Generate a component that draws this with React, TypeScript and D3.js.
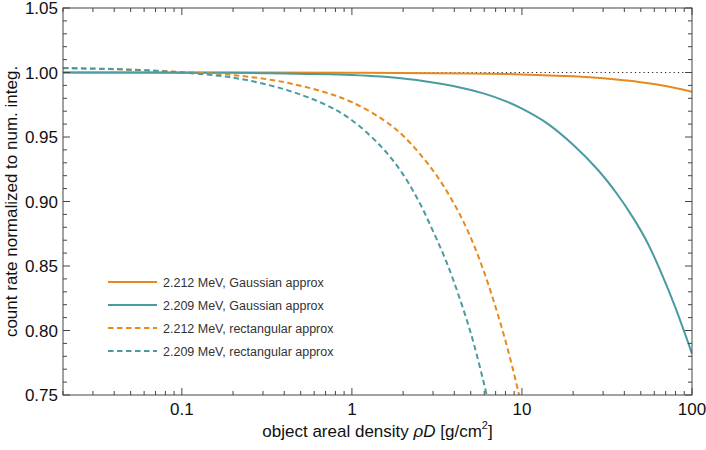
import React, { useEffect, useRef } from 'react';
import * as d3 from 'd3';

// values
const orangeGaussRho = [0.02, 0.1, 1, 5, 10, 20, 30, 50, 70, 100];
const orangeGaussVal = [1.0, 1.0, 0.9999, 0.9993, 0.9985, 0.997, 0.9955, 0.9925, 0.9895, 0.985];

const tealGaussRho = [0.02, 0.1, 0.3, 1, 2, 4, 6, 8, 10, 14, 20, 28, 36, 45, 55, 65, 80, 100];
const tealGaussVal = [1.0, 0.9999, 0.9995, 0.998, 0.9954, 0.9894, 0.9836, 0.9778, 0.972, 0.9608, 0.944, 0.9244, 0.9064, 0.8875, 0.8675, 0.8466, 0.8176, 0.782];

const orangeRectRho = [0.02, 0.04, 0.07, 0.1, 0.2, 0.4, 0.7, 1, 1.5, 2, 3, 4, 5, 6, 7, 8, 9, 10, 11];
const orangeRectVal = [1.0033, 1.0025, 1.0013, 1.0004, 0.998, 0.9925, 0.9845, 0.977, 0.964, 0.951, 0.924, 0.898, 0.872, 0.845, 0.818, 0.792, 0.766, 0.74, 0.713];

const tealRectRho = [0.02, 0.04, 0.07, 0.1, 0.2, 0.4, 0.7, 1, 1.5, 2, 2.5, 3, 3.5, 4, 5, 6, 6.8];
const tealRectVal = [1.0035, 1.0027, 1.0013, 1.0, 0.996, 0.987, 0.975, 0.963, 0.942, 0.921, 0.899, 0.877, 0.857, 0.837, 0.798, 0.758, 0.726];

const seriesNames = [
  '2.212 MeV, Gaussian approx',
  '2.209 MeV, Gaussian approx',
  '2.212 MeV, rectangular approx',
  '2.209 MeV, rectangular approx',
];

const yTicks = [0.75, 0.8, 0.85, 0.9, 0.95, 1.0, 1.05];
const xTicks = [0.1, 1, 10, 100];

const ORANGE = '#e8891d';
const TEAL = '#4a9ba0';
const FONT = 'Liberation Sans, Arial, Helvetica, sans-serif';

const App = () => {
  const ref = useRef(null);

  useEffect(() => {
    const width = 706;
    const height = 450;
    const m = { left: 63, right: 692, top: 8, bottom: 395 };

    const svg = d3.select(ref.current);
    svg.selectAll('*').remove();
    svg.attr('width', width).attr('height', height);

    const x = d3.scaleLog().domain([0.02, 100]).range([m.left, m.right]);
    const y = d3.scaleLinear().domain([0.75, 1.05]).range([m.bottom, m.top]);

    svg
      .append('defs')
      .append('clipPath')
      .attr('id', 'plot-clip')
      .append('rect')
      .attr('x', m.left)
      .attr('y', m.top)
      .attr('width', m.right - m.left)
      .attr('height', m.bottom - m.top);

    // reference line at 1
    svg
      .append('line')
      .attr('x1', m.left)
      .attr('x2', m.right)
      .attr('y1', y(1))
      .attr('y2', y(1))
      .attr('stroke', '#222')
      .attr('stroke-width', 1.2)
      .attr('stroke-dasharray', '1.2,3.1');

    const series = [
      { rho: orangeGaussRho, val: orangeGaussVal, color: ORANGE, dash: null },
      { rho: tealGaussRho, val: tealGaussVal, color: TEAL, dash: null },
      { rho: orangeRectRho, val: orangeRectVal, color: ORANGE, dash: '5.5,3.5' },
      { rho: tealRectRho, val: tealRectVal, color: TEAL, dash: '5.5,3.5' },
    ];

    const line = d3
      .line()
      .x((d) => x(d[0]))
      .y((d) => y(d[1]))
      .curve(d3.curveCatmullRom.alpha(0.5));

    const g = svg.append('g').attr('clip-path', 'url(#plot-clip)');
    series.forEach((s) => {
      const pts = s.rho.map((r, i) => [r, s.val[i]]);
      g.append('path')
        .attr('d', line(pts))
        .attr('fill', 'none')
        .attr('stroke', s.color)
        .attr('stroke-width', 2)
        .attr('stroke-dasharray', s.dash);
    });

    // frame
    const frameColor = '#444';
    svg
      .append('rect')
      .attr('x', m.left)
      .attr('y', m.top)
      .attr('width', m.right - m.left)
      .attr('height', m.bottom - m.top)
      .attr('fill', 'none')
      .attr('stroke', frameColor)
      .attr('stroke-width', 1);

    const ticks = svg.append('g').attr('stroke', frameColor).attr('stroke-width', 1);

    // y ticks every 0.01, longer every 0.05
    d3.range(75, 106).forEach((k) => {
      const v = k / 100;
      const len = k % 5 === 0 ? 7 : 4;
      const yy = y(v);
      ticks.append('line').attr('x1', m.left).attr('x2', m.left + len).attr('y1', yy).attr('y2', yy);
      ticks.append('line').attr('x1', m.right).attr('x2', m.right - len).attr('y1', yy).attr('y2', yy);
    });

    // log ticks
    const logTicks = [];
    [0.01, 0.1, 1, 10].forEach((dec) => {
      for (let i = 1; i <= 9; i++) logTicks.push(dec * i);
    });
    logTicks.push(100);
    logTicks
      .filter((v) => v >= 0.0199 && v <= 100.01)
      .forEach((v) => {
        const major = xTicks.some((t) => Math.abs(t - v) < 1e-9);
        const len = major ? 7 : 4;
        const xx = x(v);
        ticks.append('line').attr('x1', xx).attr('x2', xx).attr('y1', m.bottom).attr('y2', m.bottom - len);
        ticks.append('line').attr('x1', xx).attr('x2', xx).attr('y1', m.top).attr('y2', m.top + len);
      });

    // tick labels
    svg
      .append('g')
      .selectAll('text')
      .data(yTicks)
      .enter()
      .append('text')
      .attr('x', 58)
      .attr('y', (d) => y(d))
      .attr('dy', '0.36em')
      .attr('text-anchor', 'end')
      .attr('font-family', FONT)
      .attr('font-size', 17)
      .attr('fill', '#111')
      .text((d) => d.toFixed(2));

    svg
      .append('g')
      .selectAll('text')
      .data(xTicks)
      .enter()
      .append('text')
      .attr('x', (d) => x(d))
      .attr('y', 415)
      .attr('text-anchor', 'middle')
      .attr('font-family', FONT)
      .attr('font-size', 17)
      .attr('fill', '#111')
      .text((d) => String(d));

    // axis titles
    svg
      .append('text')
      .attr('transform', `translate(17,${(m.top + m.bottom) / 2}) rotate(-90)`)
      .attr('text-anchor', 'middle')
      .attr('font-family', FONT)
      .attr('font-size', 17)
      .attr('fill', '#111')
      .text('count rate normalized to num. integ.');

    const xt = svg
      .append('text')
      .attr('x', (m.left + m.right) / 2)
      .attr('y', 437)
      .attr('text-anchor', 'middle')
      .attr('font-family', FONT)
      .attr('font-size', 17)
      .attr('fill', '#111');
    xt.append('tspan').text('object areal density ');
    xt.append('tspan').attr('font-style', 'italic').text('ρD');
    xt.append('tspan').text(' [g/cm');
    xt.append('tspan').attr('font-size', 11).attr('dy', -8).text('2');
    xt.append('tspan').attr('dy', 8).text(']');

    // legend
    const legendY = [282, 305, 328, 351];
    series.forEach((s, i) => {
      svg
        .append('line')
        .attr('x1', 108)
        .attr('x2', 157)
        .attr('y1', legendY[i])
        .attr('y2', legendY[i])
        .attr('stroke', s.color)
        .attr('stroke-width', 2)
        .attr('stroke-dasharray', s.dash);
      svg
        .append('text')
        .attr('x', 163)
        .attr('y', legendY[i])
        .attr('dy', '0.36em')
        .attr('font-family', FONT)
        .attr('font-size', 12.5)
        .attr('fill', '#333')
        .text(seriesNames[i]);
    });
  }, []);

  return <svg ref={ref} style={{ position: 'absolute', left: 0, top: 0 }}></svg>;
};

export default App;
